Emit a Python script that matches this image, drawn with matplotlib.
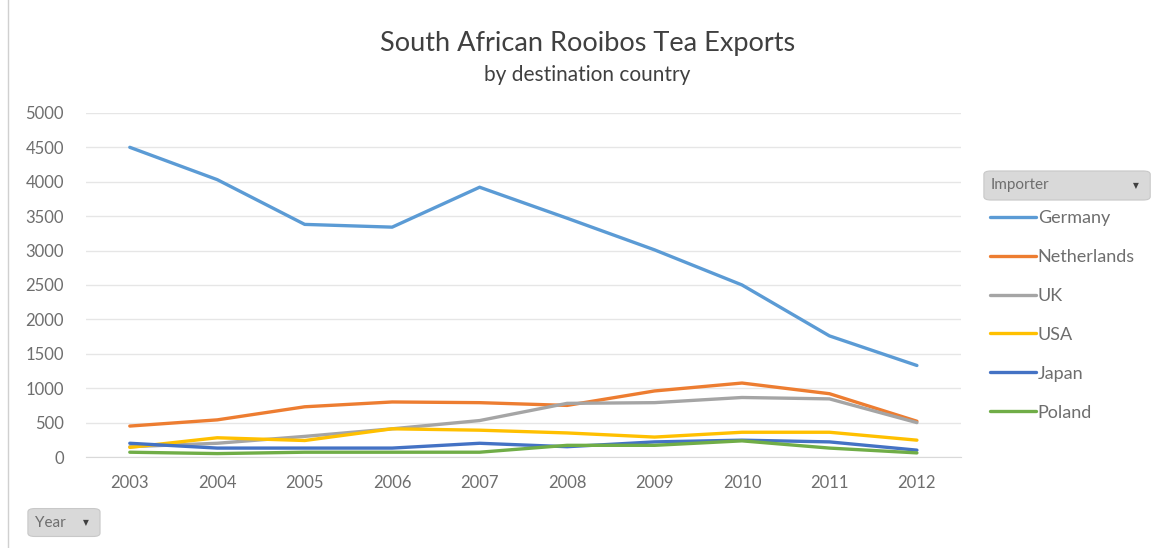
import matplotlib
matplotlib.use("Agg")
import matplotlib.pyplot as plt
from matplotlib.patches import FancyBboxPatch

plt.rcParams["font.family"] = ["Lato", "DejaVu Sans"]

years = ["2003", "2004", "2005", "2006", "2007", "2008", "2009", "2010", "2011", "2012"]
germany = [4500, 4030, 3380, 3340, 3920, 3470, 3010, 2500, 1760, 1330]
netherlands = [450, 540, 730, 800, 790, 750, 960, 1075, 920, 520]
uk = [150, 200, 300, 410, 530, 780, 790, 865, 845, 500]
usa = [140, 280, 240, 410, 390, 350, 290, 360, 360, 245]
japan = [200, 130, 130, 130, 200, 150, 220, 245, 220, 100]
poland = [70, 50, 70, 70, 70, 170, 170, 235, 130, 60]

series = [
    ("Germany", germany, "#5B9BD5"),
    ("Netherlands", netherlands, "#ED7D31"),
    ("UK", uk, "#A5A5A5"),
    ("USA", usa, "#FFC000"),
    ("Japan", japan, "#4472C4"),
    ("Poland", poland, "#70AD47"),
]

fig = plt.figure(figsize=(11.63, 5.48), dpi=100)
ax = fig.add_axes([0.074, 0.166, 0.752, 0.628])

x = range(len(years))
for name, vals, col in series:
    ax.plot(x, vals, color=col, lw=2.4, label=name, solid_capstyle="round")

ax.set_xlim(-0.5, len(years) - 0.5)
ax.set_ylim(0, 5000)
ax.set_yticks(range(0, 5001, 500))
ax.set_xticks(list(x))
ax.set_xticklabels(years)
ax.grid(axis="y", color="#E6E6E6", lw=1)
ax.set_axisbelow(True)
for s in ["top", "right", "left"]:
    ax.spines[s].set_visible(False)
ax.spines["bottom"].set_color("#D9D9D9")
ax.tick_params(length=0, labelsize=12, colors="#6E6E6E")
ax.tick_params(axis="x", pad=13)
ax.tick_params(axis="y", pad=16)

fig.text(0.505, 0.920, "South African Rooibos Tea Exports", ha="center", va="center",
         fontsize=19.5, color="#404040")
fig.text(0.505, 0.864, "by destination country", ha="center", va="center",
         fontsize=15, color="#404040")

leg = fig.legend(loc="upper left", bbox_to_anchor=(0.845, 0.63), frameon=False,
                 fontsize=13, handlelength=2.55, handletextpad=0.1,
                 labelspacing=1.27, borderaxespad=0)
for t in leg.get_texts():
    t.set_color("#6E6E6E")

# filter buttons drawn by the pivot chart
def button(x0, y0, w, h, label):
    box = FancyBboxPatch((x0, y0), w, h, boxstyle="round,pad=0,rounding_size=0.006",
                         transform=fig.transFigure, facecolor="#D9D9D9",
                         edgecolor="#C8C8C8", lw=0.8)
    fig.add_artist(box)
    fig.text(x0 + 0.006, y0 + h / 2, label, fontsize=11, color="#6E6E6E", va="center")
    fig.text(x0 + w - 0.012, y0 + h / 2, "\u25BC", fontsize=5.5, color="#404040",
             va="center", ha="center", family="DejaVu Sans")

button(0.846, 0.635, 0.143, 0.053, "Importer")
button(0.024, 0.021, 0.062, 0.051, "Year")

fig.add_artist(plt.Line2D([0.007, 0.007], [0.0, 1.0], transform=fig.transFigure,
                          color="#D0D0D0", lw=1))

fig.savefig("out.png", dpi=100)
